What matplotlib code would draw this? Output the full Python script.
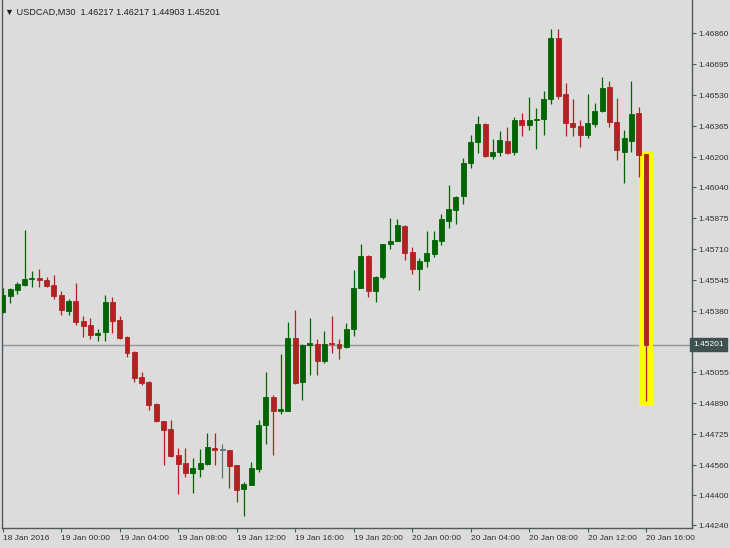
import matplotlib
matplotlib.use("Agg")
import matplotlib.pyplot as plt
from matplotlib.patches import Rectangle

plt.rcParams['font.family'] = ['Liberation Sans', 'DejaVu Sans']

opens = [1.45376,1.45461,1.45493,1.45520,1.45549,1.45557,1.45546,1.45520,1.45467,1.45381,
         1.45435,1.45328,1.45307,1.45254,1.45270,1.45429,1.45334,1.45243,1.45163,1.45030,
         1.45004,1.44887,1.44796,1.44754,1.44615,1.44573,1.44520,1.44541,1.44568,1.44653,
         1.44642,1.44642,1.44562,1.44435,1.44456,1.44541,1.44775,1.44924,1.44849,1.44849,
         1.45238,1.45004,1.45198,1.45206,1.45115,1.45211,1.45206,1.45190,1.45286,1.45504,
         1.45674,1.45488,1.45562,1.45738,1.45754,1.45834,1.45695,1.45605,1.45647,1.45685,
         1.45754,1.45860,1.45919,1.45993,1.46169,1.46281,1.46376,1.46206,1.46227,1.46286,
         1.46227,1.46398,1.46371,1.46398,1.46403,1.46509,1.46834,1.46536,1.46382,1.46366,
         1.46318,1.46376,1.46445,1.46573,1.46387,1.46227,1.46286,1.46435,1.46217]
closes = [1.45467,1.45499,1.45525,1.45552,1.45557,1.45546,1.45515,1.45461,1.45387,1.45435,
          1.45323,1.45302,1.45254,1.45264,1.45429,1.45328,1.45238,1.45158,1.45025,1.44998,
          1.44881,1.44796,1.44748,1.44610,1.44568,1.44520,1.44546,1.44573,1.44658,1.44642,
          1.44642,1.44557,1.44429,1.44461,1.44546,1.44775,1.44924,1.44849,1.44858,1.45238,
          1.44998,1.45201,1.45209,1.45115,1.45206,1.45206,1.45185,1.45286,1.45504,1.45674,
          1.45488,1.45562,1.45738,1.45754,1.45839,1.45690,1.45605,1.45647,1.45690,1.45759,
          1.45871,1.45924,1.45988,1.46169,1.46281,1.46376,1.46206,1.46227,1.46291,1.46222,
          1.46398,1.46371,1.46398,1.46403,1.46509,1.46834,1.46525,1.46382,1.46360,1.46318,
          1.46382,1.46445,1.46568,1.46387,1.46238,1.46302,1.46430,1.46211,1.45201]
highs = [1.45504,1.45504,1.45536,1.45812,1.45594,1.45605,1.45562,1.45573,1.45488,1.45445,
         1.45531,1.45355,1.45344,1.45286,1.45467,1.45456,1.45355,1.45248,1.45169,1.45057,
         1.45009,1.44892,1.44796,1.44802,1.44653,1.44653,1.44599,1.44647,1.44732,1.44732,
         1.44674,1.44642,1.44562,1.44472,1.44578,1.44802,1.45057,1.44935,1.45153,1.45323,
         1.45387,1.45206,1.45344,1.45233,1.45275,1.45355,1.45233,1.45318,1.45600,1.45738,
         1.45679,1.45568,1.45738,1.45876,1.45871,1.45839,1.45722,1.45663,1.45807,1.45807,
         1.45898,1.46052,1.45993,1.46195,1.46318,1.46419,1.46382,1.46297,1.46339,1.46360,
         1.46414,1.46435,1.46520,1.46461,1.46552,1.46882,1.46882,1.46594,1.46509,1.46398,
         1.46536,1.46488,1.46626,1.46605,1.46515,1.46344,1.46605,1.46467,1.46217]
lows = [1.45371,1.45424,1.45472,1.45515,1.45509,1.45509,1.45509,1.45445,1.45360,1.45360,
        1.45307,1.45243,1.45233,1.45222,1.45222,1.45264,1.45233,1.45137,1.45004,1.44988,
        1.44855,1.44791,1.44562,1.44605,1.44408,1.44498,1.44413,1.44498,1.44562,1.44562,
        1.44493,1.44440,1.44365,1.44291,1.44456,1.44525,1.44674,1.44615,1.44834,1.44849,
        1.44993,1.44908,1.45041,1.45041,1.45105,1.45158,1.45126,1.45185,1.45248,1.45504,
        1.45456,1.45429,1.45552,1.45711,1.45754,1.45653,1.45578,1.45493,1.45616,1.45669,
        1.45733,1.45823,1.45844,1.45951,1.46142,1.46222,1.46201,1.46190,1.46206,1.46217,
        1.46211,1.46312,1.46344,1.46243,1.46318,1.46483,1.46509,1.46312,1.46312,1.46254,
        1.46302,1.46360,1.46440,1.46360,1.46185,1.46063,1.46227,1.46094,1.44903]

x_labels = ["18 Jan 2016","19 Jan 00:00","19 Jan 04:00","19 Jan 08:00","19 Jan 12:00",
            "19 Jan 16:00","19 Jan 20:00","20 Jan 00:00","20 Jan 04:00","20 Jan 08:00",
            "20 Jan 12:00","20 Jan 16:00"]
y_ticks = [1.46860,1.46695,1.46530,1.46365,1.46200,1.46040,1.45875,1.45710,1.45545,
           1.45380,1.45055,1.44890,1.44725,1.44560,1.44400,1.44240]
title = "USDCAD,M30  1.46217 1.46217 1.44903 1.45201"
last_price = 1.45201

BG = "#dcdcdc"
GREEN = "#006400"
RED = "#b22222"
DOJI = "#5a7878"
FS = 6.0

fig = plt.figure(figsize=(7.3, 5.48), dpi=100, facecolor=BG)
ax = fig.add_axes([2/730, 20/548, 690/730, 528/548], facecolor=BG)

w = 0.68
for i, (o, c, h, l) in enumerate(zip(opens, closes, highs, lows)):
    if c > o:
        col = GREEN
    elif c < o:
        col = RED
    else:
        col = DOJI
    ax.vlines(i, l, h, color=col, linewidth=0.9, zorder=3)
    bot = min(o, c)
    ht = max(abs(c - o), 0.000025)
    ax.add_patch(Rectangle((i - w/2, bot), w, ht, facecolor=col, edgecolor=col,
                           linewidth=0.6, zorder=4))

n = len(opens) - 1
ax.add_patch(Rectangle((n - 0.95, lows[n] - 0.00025), 1.9,
                       highs[n] - lows[n] + 0.00035, facecolor="#ffff00",
                       edgecolor="none", zorder=2))

ax.axhline(last_price, color="#8c969a", linewidth=1.0, zorder=1)

ax.set_xlim(-0.1, -0.1 + 690/7.31)
ax.set_ylim(1.442266, 1.470356)

ax.set_xticks(list(range(0, 8*len(x_labels), 8)))
ax.set_xticklabels(x_labels, fontsize=FS, color="#303030", ha="left")
ax.tick_params(axis="x", length=3, pad=2, color="#505a5e")
ax.yaxis.tick_right()
ax.set_yticks(y_ticks)
ax.set_yticklabels([f"{v:.5f}" for v in y_ticks], fontsize=FS, color="#303030")
ax.tick_params(axis="y", length=3, pad=1.5, color="#505a5e")

ax.spines["top"].set_visible(False)
for s in ["left", "right", "bottom"]:
    ax.spines[s].set_color("#505a5e")
    ax.spines[s].set_linewidth(1.0)

ax.text(1.002, last_price, f"{last_price:.5f}", transform=ax.get_yaxis_transform(),
        fontsize=FS, color="white", va="center", ha="left",
        bbox=dict(boxstyle="square,pad=0.35", facecolor="#3e5050", edgecolor="#3e5050"))

ax.text(0.004, 0.985, "\u25bc " + title, transform=ax.transAxes, fontsize=6.6,
        color="#202020", va="top", ha="left")

fig.savefig("out.png", dpi=100, facecolor=BG)
